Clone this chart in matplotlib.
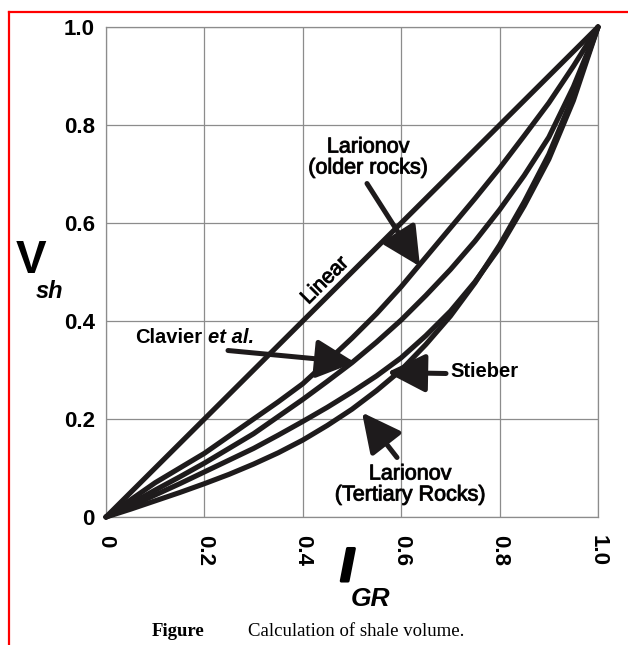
import matplotlib
matplotlib.use("Agg")
import matplotlib.pyplot as plt
from matplotlib.lines import Line2D
import matplotlib.patheffects as pe

# ---- data ----
i_gr = [0.00, 0.05, 0.10, 0.15, 0.20, 0.25, 0.30, 0.35, 0.40, 0.45, 0.50,
        0.55, 0.60, 0.65, 0.70, 0.75, 0.80, 0.85, 0.90, 0.95, 1.00]
linear = list(i_gr)
larionov_older = [0.000, 0.035, 0.070, 0.100, 0.130, 0.165, 0.200, 0.235, 0.272, 0.318, 0.365,
                  0.415, 0.470, 0.530, 0.590, 0.650, 0.712, 0.778, 0.845, 0.920, 1.000]
clavier = [0.000, 0.027, 0.055, 0.082, 0.110, 0.140, 0.170, 0.205, 0.240, 0.277, 0.315,
           0.357, 0.402, 0.452, 0.505, 0.563, 0.627, 0.697, 0.775, 0.878, 1.000]
stieber = [0.000, 0.022, 0.045, 0.068, 0.092, 0.116, 0.140, 0.167, 0.195, 0.224, 0.255,
           0.288, 0.325, 0.370, 0.420, 0.480, 0.550, 0.635, 0.730, 0.850, 1.000]
larionov_tertiary = [0.000, 0.016, 0.033, 0.050, 0.068, 0.087, 0.108, 0.131, 0.157, 0.187, 0.220,
                     0.258, 0.300, 0.352, 0.410, 0.478, 0.555, 0.643, 0.740, 0.860, 1.000]
ticks = [0.0, 0.2, 0.4, 0.6, 0.8, 1.0]
tick_labels = ["0", "0.2", "0.4", "0.6", "0.8", "1.0"]

W, H = 628, 645
fig = plt.figure(figsize=(W / 100, H / 100), dpi=100)
fig.patch.set_facecolor("white")

def fx(px):
    return px / W

def fy(py):
    return 1 - py / H

ax = fig.add_axes([fx(106), fy(517), fx(598) - fx(106), fy(27) - fy(517)])
ax.set_xlim(0, 1)
ax.set_ylim(0, 1)

black = "#1e1b1c"
grid_c = "#8c8c8c"
sans = "Liberation Sans"
med = [pe.withStroke(linewidth=0.7, foreground=black)]

for t in ticks:
    ax.axvline(t, color=grid_c, lw=0.9, zorder=1)
    ax.axhline(t, color=grid_c, lw=0.9, zorder=1)
for s in ax.spines.values():
    s.set_color(grid_c)
    s.set_linewidth(0.9)

for series in [linear, larionov_older, clavier, stieber, larionov_tertiary]:
    ax.plot(i_gr, series, color=black, lw=3.7, solid_capstyle="round",
            solid_joinstyle="round", zorder=3, clip_on=False)

ax.set_xticks(ticks)
ax.set_yticks(ticks)
ax.set_xticklabels(tick_labels, rotation=270, fontsize=16, fontweight="bold",
                   family=sans, va="top", ha="center")
ax.set_yticklabels(tick_labels, fontsize=16, fontweight="bold", family=sans)
ax.tick_params(axis="both", length=0)
ax.tick_params(axis="x", pad=13)
ax.tick_params(axis="y", pad=8)

arrow_kw = dict(arrowstyle="-|>,head_length=1.7,head_width=0.85", lw=3.6, color=black,
                shrinkA=0, shrinkB=0, mutation_scale=14)

def d(px, py):
    return ((px - 106) / 492, (516.5 - py) / 490)

# Larionov older rocks
ax.text(*d(368, 157), "Larionov\n(older rocks)", ha="center", va="center",
        fontsize=15.5, family=sans, linespacing=1.0, zorder=5, path_effects=med)
ax.annotate("", xy=d(420, 266), xytext=d(367, 183), arrowprops=arrow_kw, zorder=5)

# Clavier et al.
ax.text(*d(135, 337), "Clavier", ha="left", va="center", fontsize=14.5,
        fontweight="bold", family=sans, zorder=5)
ax.text(*d(208, 337), "et al.", ha="left", va="center", fontsize=14.5,
        fontweight="bold", style="italic", family=sans, zorder=5)
ax.annotate("", xy=d(355, 362), xytext=d(228, 350), arrowprops=arrow_kw, zorder=5)

# Stieber
ax.text(*d(450, 371), "Stieber", ha="left", va="center", fontsize=14.5,
        fontweight="bold", family=sans, zorder=5)
ax.annotate("", xy=d(387, 372), xytext=d(446, 373), arrowprops=arrow_kw, zorder=5)

# Larionov Tertiary
ax.text(*d(410, 484), "Larionov\n(Tertiary Rocks)", ha="center", va="center",
        fontsize=15.5, family=sans, linespacing=1.0, zorder=5, path_effects=med)
ax.annotate("", xy=d(362, 412), xytext=d(397, 457), arrowprops=arrow_kw, zorder=5)

# Linear
ax.text(*d(325, 280), "Linear", ha="center", va="center", rotation=45,
        rotation_mode="anchor", fontsize=15, family=sans, zorder=5, path_effects=med)

# axis labels
fig.text(fx(16), fy(261), "V", fontsize=33, fontweight="bold", family=sans,
         ha="left", va="center")
fig.text(fx(36), fy(291), "sh", fontsize=17, fontweight="bold", style="italic",
         family=sans, ha="left", va="center")
fig.text(fx(347), fy(569), "I", fontsize=34, fontweight="bold", style="italic",
         family=sans, ha="center", va="center",
         path_effects=[pe.withStroke(linewidth=2.2, foreground="black")])
fig.text(fx(351), fy(599), "GR", fontsize=19, fontweight="bold", style="italic",
         family=sans, ha="left", va="center")

# caption
fig.text(fx(152), fy(632), "Figure", fontsize=13.5, fontweight="bold",
         family="Liberation Serif", ha="left", va="center")
fig.text(fx(248), fy(632), "Calculation of shale volume.", fontsize=13.5,
         family="Liberation Serif", ha="left", va="center")

# red frame
fig.add_artist(Line2D([fx(9), fx(9)], [fy(12), 0], color="red", lw=1.6,
                      transform=fig.transFigure))
fig.add_artist(Line2D([fx(9), 1], [fy(12), fy(12)], color="red", lw=1.6,
                      transform=fig.transFigure))

fig.savefig("out.png", dpi=100, facecolor="white")
